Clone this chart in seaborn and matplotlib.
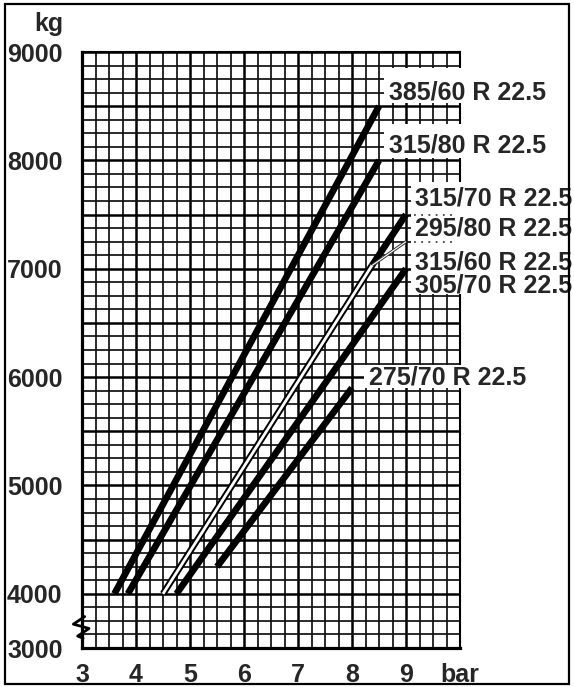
import numpy as np
import pandas as pd
import matplotlib
matplotlib.use("Agg")
import matplotlib.pyplot as plt
from matplotlib.patches import Rectangle
from matplotlib.ticker import MultipleLocator, FixedLocator, FixedFormatter
import seaborn as sns

sns.set_style("white")
plt.rcParams['font.family'] = ['Liberation Sans', 'DejaVu Sans']

# ---- data (pressure in bar, load in kg) ----
p_385_60 = [3.6, 8.5];   l_385_60 = [4000, 8500]
p_315_80 = [3.85, 8.5];  l_315_80 = [4000, 8000]
p_shared = [4.5, 8.37];  l_shared = [4000, 7030]      # 315/60 (and common start of 315/70, 295/80)
p_315_70 = [8.37, 9.0];  l_315_70 = [7030, 7500]
p_295_80 = [8.37, 9.0];  l_295_80 = [7030, 7250]
p_305_70 = [4.75, 9.0];  l_305_70 = [4000, 7000]
p_275_70 = [5.5, 8.0];   l_275_70 = [4250, 5900]

labels = ["385/60 R 22.5", "315/80 R 22.5", "315/70 R 22.5", "295/80 R 22.5",
          "315/60 R 22.5", "305/70 R 22.5", "275/70 R 22.5"]
label_x = [8.69, 8.69, 9.17, 9.17, 9.17, 9.17, 8.31]
label_y = [8630, 8140, 7650, 7373, 7059, 6847, 5996]

x_ticks = [3, 4, 5, 6, 7, 8, 9, 10]
x_ticklabels = ["3", "4", "5", "6", "7", "8", "9", "bar"]
y_ticks = [3500, 4000, 4500, 5000, 5500, 6000, 6500, 7000, 7500, 8000, 8500, 9000]
y_ticklabels = ["3000", "4000", "", "5000", "", "6000", "", "7000", "", "8000", "", "9000"]

W, H = 574, 687
fig = plt.figure(figsize=(W / 100, H / 100), dpi=100)
ax = fig.add_axes([82 / W, 1 - 648 / H, (460 - 82) / W, (648 - 52) / H])
ax.set_xlim(3, 10)
ax.set_ylim(3500, 9000)

# grid
ax.xaxis.set_minor_locator(MultipleLocator(0.25))
ax.yaxis.set_minor_locator(MultipleLocator(125))
ax.xaxis.set_major_locator(FixedLocator(x_ticks))
ax.xaxis.set_major_formatter(FixedFormatter(x_ticklabels))
ax.yaxis.set_major_locator(FixedLocator(y_ticks))
ax.yaxis.set_major_formatter(FixedFormatter(y_ticklabels))
ax.grid(which='minor', color='#111111', linewidth=1.25)
ax.grid(which='major', color='black', linewidth=1.8)
ax.set_axisbelow(True)
ax.tick_params(which='major', direction='out', length=7, width=1.8, color='black',
               labelsize=18)
ax.tick_params(axis='x', which='major', pad=3.5)
ax.tick_params(axis='y', which='major', pad=7)
ax.tick_params(which='minor', length=0)
for lab in ax.get_xticklabels() + ax.get_yticklabels():
    lab.set_fontweight('bold')
for s in ['left', 'bottom']:
    ax.spines[s].set_linewidth(2.3)
    ax.spines[s].set_color('black')
for s in ['right', 'top']:
    ax.spines[s].set_linewidth(1.5)
    ax.spines[s].set_color('black')

# thick black curves
lw_thick = 4.8
for px, ly in [(p_385_60, l_385_60), (p_315_80, l_315_80), (p_315_70, l_315_70),
               (p_305_70, l_305_70), (p_275_70, l_275_70)]:
    sns.lineplot(x=px, y=ly, ax=ax, color='black', linewidth=lw_thick,
                 solid_capstyle='butt', zorder=3)
# white (outlined) common line
sns.lineplot(x=p_shared, y=l_shared, ax=ax, color='black', linewidth=lw_thick,
             solid_capstyle='butt', zorder=3)
sns.lineplot(x=p_shared, y=l_shared, ax=ax, color='white', linewidth=2.0,
             solid_capstyle='butt', zorder=4)
# thin double line
sns.lineplot(x=p_295_80, y=l_295_80, ax=ax, color='#333333', linewidth=2.2,
             solid_capstyle='butt', zorder=3)
sns.lineplot(x=p_295_80, y=l_295_80, ax=ax, color='white', linewidth=0.8,
             solid_capstyle='butt', zorder=4)

# white label backgrounds
for (x0, y0, y1) in [(8.6, 8530, 8850), (8.6, 8020, 8340), (9.1, 6765, 7800), (8.22, 5895, 6110)]:
    ax.add_patch(Rectangle((x0, y0), 12 - x0, y1 - y0, facecolor='white', edgecolor='none',
                           zorder=5, clip_on=False))

# dotted leaders under labels
for yy in [7500, 7250]:
    ax.plot([9.15, 9.95], [yy, yy], linestyle=(0, (1, 3)), color='#444444', linewidth=1.3,
            zorder=6, clip_on=False)

for t, xx, yy in zip(labels, label_x, label_y):
    ax.text(xx, yy, t, fontsize=18, fontweight='bold', ha='left', va='center',
            zorder=7, clip_on=False)

# axis break symbol
zx = [0.05, -0.16, 0.13, -0.08, 0.02]
zy = [3790, 3720, 3680, 3610, 3590]
ax.plot([3 + v for v in zx], zy, color='black', linewidth=2.0, zorder=8, clip_on=False)

# unit label kg
fig.text(63 / W, 1 - 24 / H, "kg", fontsize=18, fontweight='bold', ha='right', va='center')

# figure border
fig.patches.append(Rectangle((5 / W, 3 / H), (569 - 5) / W, (683 - 3) / H,
                             transform=fig.transFigure, fill=False, edgecolor='black',
                             linewidth=1.6))

ax.set_xlabel("")
ax.set_ylabel("")
if ax.get_legend() is not None:
    ax.get_legend().remove()

fig.savefig("out.png", dpi=100)
